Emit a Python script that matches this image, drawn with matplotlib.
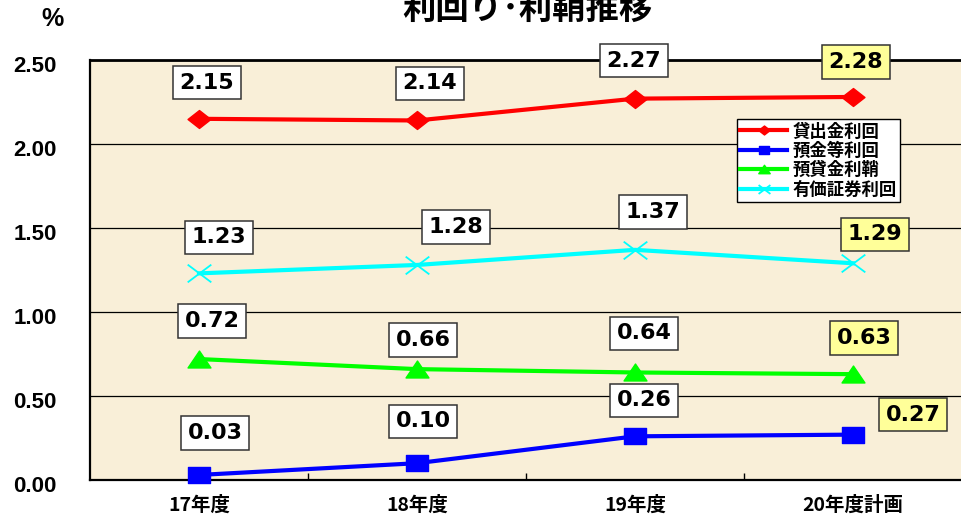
import matplotlib
matplotlib.use("Agg")
import matplotlib.pyplot as plt
from matplotlib.path import Path
from matplotlib.transforms import ScaledTranslation
import numpy as np

# ---- data ----
categories = ["17年度", "18年度", "19年度", "20年度計画"]
series_names = ["貸出金利回", "預金等利回", "預貸金利鞘", "有価証券利回"]
loan_yield = [2.15, 2.14, 2.27, 2.28]
deposit_yield = [0.03, 0.10, 0.26, 0.27]
spread = [0.72, 0.66, 0.64, 0.63]
securities_yield = [1.23, 1.28, 1.37, 1.29]
yticks = [0.0, 0.5, 1.0, 1.5, 2.0, 2.5]
title = "利回り･利鞘推移"
unit = "%"

# ---- styles ----
CJK = ["Noto Sans CJK JP", "DejaVu Sans"]
plt.rcParams["font.family"] = CJK

W, H, DPI = 962, 516, 100
fig = plt.figure(figsize=(W / DPI, H / DPI), dpi=DPI)
fig.patch.set_facecolor("white")
ax = fig.add_axes([90 / W, 1 - 480 / H, (962 - 90) / W, (480 - 60) / H])
ax.set_facecolor("#F9EFD8")

diamond = Path([(-11.5, 0), (0, 9), (11.5, 0), (0, -9), (-11.5, 0)],
               [Path.MOVETO, Path.LINETO, Path.LINETO, Path.LINETO, Path.CLOSEPOLY])
rect = Path([(-11, -8), (11, -8), (11, 8), (-11, 8), (-11, -8)],
            [Path.MOVETO, Path.LINETO, Path.LINETO, Path.LINETO, Path.CLOSEPOLY])
tri = Path([(-11.5, -8.5), (11.5, -8.5), (0, 8.5), (-11.5, -8.5)],
           [Path.MOVETO, Path.LINETO, Path.LINETO, Path.CLOSEPOLY])
cross = Path([(-12, -9), (12, 9), (-12, 9), (12, -9)],
             [Path.MOVETO, Path.LINETO, Path.MOVETO, Path.LINETO])

x = np.arange(len(categories))
series = [
    (loan_yield, "#FF0000", diamond, 16.5, 1.0),
    (deposit_yield, "#0000FF", rect, 15.8, 1.0),
    (spread, "#00FF00", tri, 16.5, 1.0),
    (securities_yield, "#00FFFF", cross, 17.0, 1.3),
]
handles = []
for (vals, col, mk, ms, mew), name in zip(series, series_names):
    h, = ax.plot(x, vals, color=col, lw=3.0, marker=mk, ms=ms,
                 mfc=col, mec=col, mew=mew, zorder=3, label=name, clip_on=False)
    handles.append(h)

# label offsets in pixels (dx, dy)
offsets = [
    [(8, 36), (13, 37), (-1, 38), (3, 35)],
    [(16, 42), (6, 42), (9, 36), (60, 20)],
    [(13, 38), (6, 29), (9, 39), (11, 36)],
    [(20, 36), (39, 38), (18, 38), (22, 29)],
]
for si, (vals, col, mk, ms, mew) in enumerate(series):
    for i, v in enumerate(vals):
        fc = "#FFFF99" if i == len(vals) - 1 else "white"
        ax.annotate(f"{v:.2f}", (x[i], v), xytext=offsets[si][i],
                    textcoords="offset pixels", ha="center", va="center",
                    fontsize=16, fontweight="bold", family="DejaVu Sans",
                    color="black", zorder=6, annotation_clip=False,
                    bbox=dict(boxstyle="square,pad=0.3", fc=fc, ec="#333333", lw=1.1))

ax.set_xlim(-0.5, len(categories) - 0.5)
ax.set_ylim(0, 2.5)
ax.set_yticks(yticks)
ax.set_yticklabels([f"{t:.2f}" for t in yticks], fontsize=16, fontweight="bold",
                   family="Liberation Sans")
ax.tick_params(axis="y", length=0, pad=24)
for lab in ax.get_yticklabels():
    lab.set_transform(lab.get_transform() + ScaledTranslation(0, -4 / DPI, fig.dpi_scale_trans))

ax.set_xticks(x)
ax.set_xticklabels(categories, fontsize=14, fontweight="bold", family=CJK)
ax.tick_params(axis="x", length=0, pad=11)
ax.set_xticks(x[:-1] + 0.5, minor=True)
ax.tick_params(axis="x", which="minor", direction="in", length=5, width=1, color="black")

ax.yaxis.grid(True, color="black", lw=0.9)
ax.set_axisbelow(True)
for s in ["left", "bottom", "top"]:
    ax.spines[s].set_color("black")
ax.spines["left"].set_linewidth(1.6)
ax.spines["bottom"].set_linewidth(1.6)
ax.spines["top"].set_linewidth(2.0)
ax.spines["right"].set_visible(False)

leg = ax.legend(handles=handles, loc="upper left",
                bbox_to_anchor=(737 / W, 1 - 119 / H), bbox_transform=fig.transFigure,
                borderaxespad=0, frameon=True, fancybox=False, edgecolor="black",
                facecolor="white", framealpha=1, markerscale=0.5,
                prop=dict(family=CJK, weight="bold", size=12.5),
                handlelength=2.7, handletextpad=0.3, borderpad=0.2, labelspacing=0.08)
leg.get_frame().set_linewidth(1.0)
leg.set_zorder(7)

fig.text(527 / W, 1 - 9 / H, title, ha="center", va="center", fontsize=24,
         fontweight="bold", family=CJK)
fig.text(52 / W, 1 - 19 / H, unit, ha="center", va="center", fontsize=18,
         fontweight="bold", family=["Liberation Sans", "DejaVu Sans"])

fig.savefig("out.png", dpi=DPI)
